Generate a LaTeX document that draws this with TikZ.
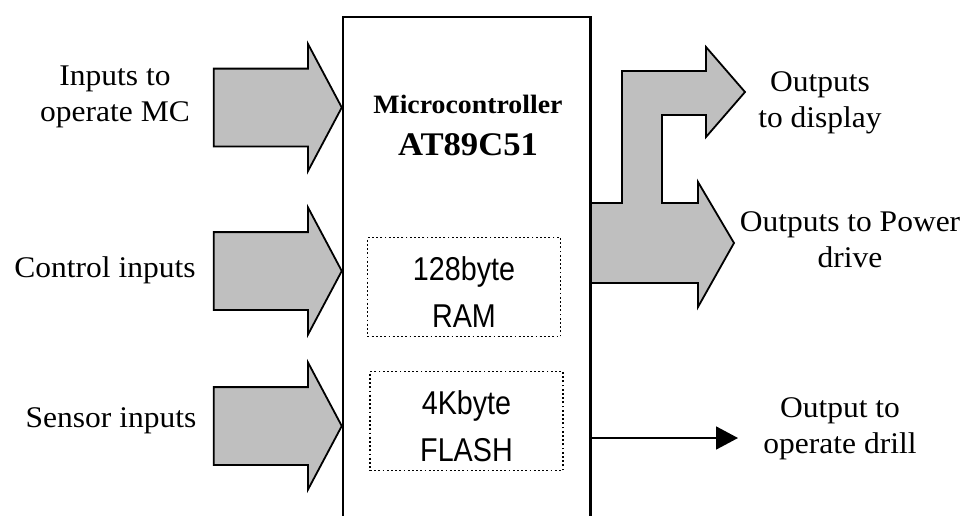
\documentclass[tikz,border=0pt]{standalone}
\usepackage{fontspec}
\setmainfont{Liberation Serif}[FakeStretch=1.05]
\newfontfamily\memfont{Liberation Sans}[FakeStretch=0.87]
\usetikzlibrary{arrows.meta,positioning,shapes.arrows}

\begin{document}
\begin{tikzpicture}[x=1pt, y=-1pt,
  lbl/.style={align=center, inner sep=0pt, font=\fontsize{30}{36}\selectfont},
  mem/.style={draw, line width=1.8pt, dash pattern=on 1.8pt off 2.4pt,
              minimum width=193pt, minimum height=99pt, align=center,
              font=\memfont\fontsize{33}{47}\selectfont},
  blk/.style={draw, line width=1.8pt, fill=black!25, line join=miter},
  inar/.style={blk, single arrow, anchor=tip, inner xsep=0pt, inner ysep=38pt,
               minimum height=128pt, single arrow head extend=24.5pt,
               single arrow tip angle=124},
  ar/.style={-{Triangle[length=22pt, width=23pt]}, line width=1.8pt}
]
\useasboundingbox (0,0) rectangle (964,515);
\node[minimum width=247pt, minimum height=508pt, inner sep=0pt] (mc) at (466.5,271) {};
\node[font=\bfseries\fontsize{26.5}{30}\selectfont, inner sep=0pt, anchor=base] (title) at (468,113) {Microcontroller};
\node[font=\bfseries\fontsize{33}{36}\selectfont, inner sep=0pt, anchor=base] (chip) at (468,155) {AT89C51};
\node[mem] (ram)   at (464,287)   {\rule{0pt}{34pt}128byte\\RAM};
\node[mem] (flash) at (466.5,421) {\rule{0pt}{34pt}4Kbyte\\FLASH};
% inputs
\node[inar] (in1) at (mc.west |- 0,107.5) {};
\node[inar] (in2) at (mc.west |- 0,271) {};
\node[inar] (in3) at (mc.west |- 0,426) {};
\node[lbl] (l1) at (115,97) {Inputs to\\operate MC};
\node[lbl, anchor=base] (l2) at (105,277) {Control inputs};
\node[lbl, anchor=base] (l3) at (111,427) {Sensor inputs};
% outputs
\draw[blk] (mc.east |- 0,203) -- (622,203) -- (622,71) -- (706,71) -- (706,47) -- (745,92)
  -- (706,137) -- (706,115) -- (662,115) -- (662,203) -- (698,203) -- (698,182)
  -- (734,243) -- (698,307) -- (698,283) -- (mc.east |- 0,283);
\coordinate (drill) at (738,438);
\draw[ar] (mc.east |- drill) -- (drill);
\node[lbl] (o1) at (820,103) {Outputs\\to display};
\node[lbl] (o2) at (850,240) {Outputs to Power\\drive};
\node[lbl] (o3) at (840,429) {Output to\\operate drill};
\draw[line width=2.6pt] (mc.south west) |- (mc.north east) -- (mc.south east);
\end{tikzpicture}
\end{document}
